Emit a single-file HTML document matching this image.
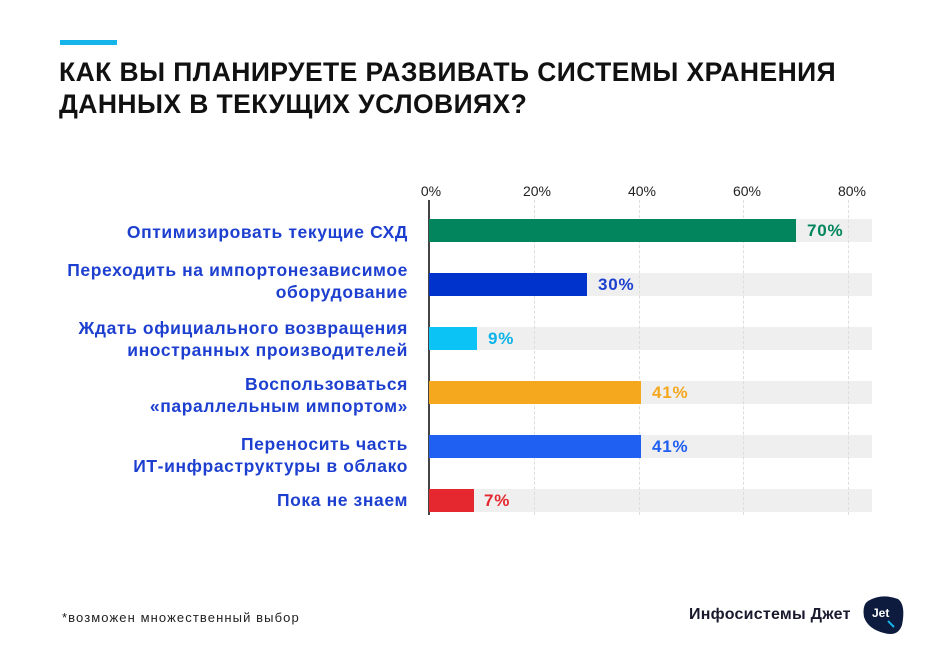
<!DOCTYPE html>
<html><head><meta charset="utf-8"><style>
body{margin:0;width:940px;height:663px;background:#fff;position:relative;overflow:hidden;font-family:"Liberation Sans","Noto Sans CJK SC",sans-serif}
.a{position:absolute}
.lbl{position:absolute;right:532px;text-align:right;color:#1d3fd0;font-size:17.5px;font-weight:bold;line-height:22px;white-space:nowrap;letter-spacing:0.6px}
.bg{position:absolute;left:429px;width:443px;height:23px;background:#efefef}
.bar{position:absolute;left:429px;height:23px}
.v{position:absolute;font-size:17px;font-weight:bold;line-height:23px;letter-spacing:0.8px}
.tk{position:absolute;top:183px;font-size:14px;color:#222;width:50px;text-align:center}
.g{position:absolute;top:200px;height:315px;border-left:1px dashed #ddd}
</style></head><body>
<div class="a" style="left:60px;top:40px;width:57px;height:5px;background:#15b4ea"></div>
<div class="a" style="left:59px;top:56px;font-size:26.5px;font-weight:bold;color:#111;line-height:32px;letter-spacing:0.42px">КАК ВЫ ПЛАНИРУЕТЕ РАЗВИВАТЬ СИСТЕМЫ ХРАНЕНИЯ<br>ДАННЫХ В ТЕКУЩИХ УСЛОВИЯХ?</div>
<div class="tk" style="left:406px">0%</div>
<div class="tk" style="left:512px">20%</div>
<div class="tk" style="left:617px">40%</div>
<div class="tk" style="left:722px">60%</div>
<div class="tk" style="left:827px">80%</div>
<div class="bg" style="top:219px"></div><div class="bg" style="top:273px"></div><div class="bg" style="top:327px"></div><div class="bg" style="top:381px"></div><div class="bg" style="top:435px"></div><div class="bg" style="top:489px"></div>
<div class="g" style="left:534px"></div><div class="g" style="left:639px"></div><div class="g" style="left:743px"></div><div class="g" style="left:848px"></div>
<div class="a" style="left:428px;top:200px;width:1.5px;height:315px;background:#444"></div>
<div class="bar" style="top:219px;width:367px;background:#02855c"></div>
<div class="bar" style="top:273px;width:158px;background:#0033cc"></div>
<div class="bar" style="top:327px;width:48px;background:#0bc4f5"></div>
<div class="bar" style="top:381px;width:212px;background:#f5a81e"></div>
<div class="bar" style="top:435px;width:212px;background:#1f5ff2"></div>
<div class="bar" style="top:489px;width:45px;background:#e5282f"></div>
<div class="v" style="left:807px;top:219px;color:#02855c">70%</div>
<div class="v" style="left:598px;top:273px;color:#1d3fd0">30%</div>
<div class="v" style="left:488px;top:327px;color:#0bb4e8">9%</div>
<div class="v" style="left:652px;top:381px;color:#f5a81e">41%</div>
<div class="v" style="left:652px;top:435px;color:#1f5ff2">41%</div>
<div class="v" style="left:484px;top:489px;color:#e5282f">7%</div>
<div class="lbl" style="top:221px">Оптимизировать текущие СХД</div>
<div class="lbl" style="top:259px">Переходить на импортонезависимое<br>оборудование</div>
<div class="lbl" style="top:317px">Ждать официального возвращения<br>иностранных производителей</div>
<div class="lbl" style="top:373px">Воспользоваться<br>«параллельным импортом»</div>
<div class="lbl" style="top:433px">Переносить часть<br>ИТ-инфраструктуры в облако</div>
<div class="lbl" style="top:489px">Пока не знаем</div>
<div class="a" style="left:62px;top:610px;font-size:13px;color:#222;letter-spacing:1.1px">*возможен множественный выбор</div>
<div class="a" style="left:689px;top:606px;font-size:16px;font-weight:bold;color:#1a1a2e;letter-spacing:0.25px">Инфосистемы Джет</div>
<svg class="a" style="left:860px;top:595px" width="46" height="42" viewBox="0 0 46 42"><path d="M8 6 Q22 -2 38 4 Q46 10 42 30 Q38 42 24 38 Q8 34 4 22 Q2 10 8 6Z" fill="#0d1b3e"/><text x="12" y="22" font-size="12" font-weight="bold" fill="#fff" font-family="Liberation Sans">Jet</text><path d="M28 26 L34 32" stroke="#15b4ea" stroke-width="2"/></svg>
</body></html>
